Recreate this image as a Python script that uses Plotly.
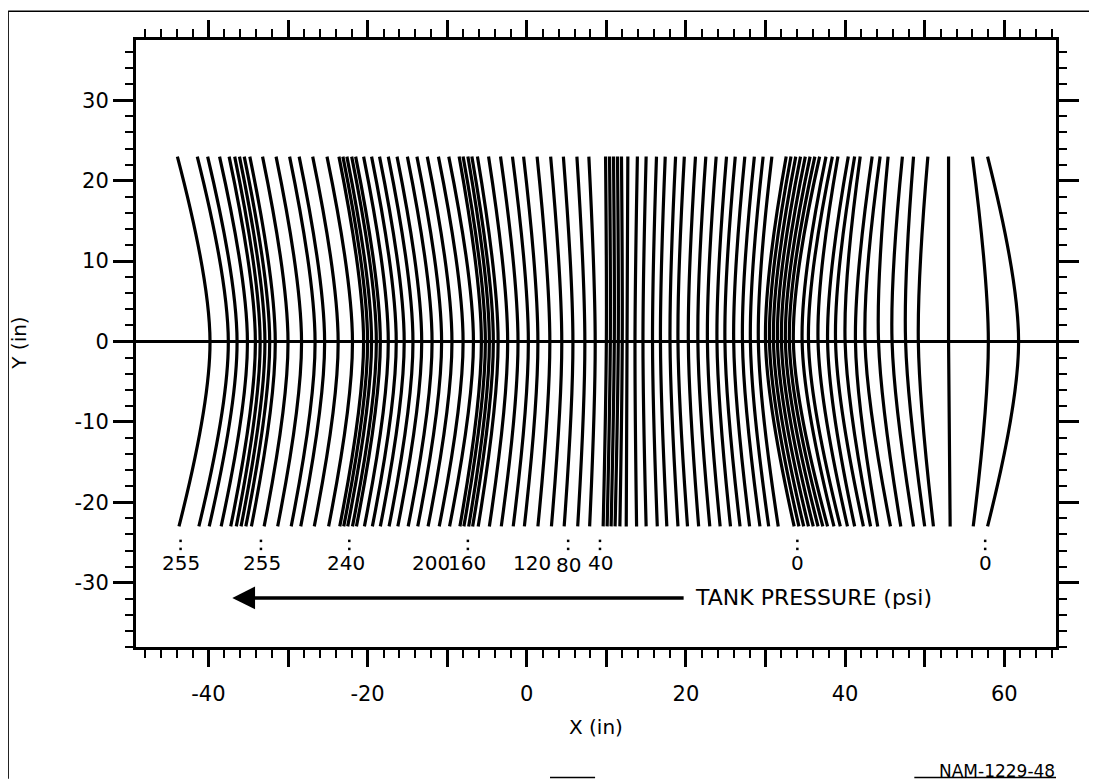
import plotly.graph_objects as go

# ---- data (x positions in inches) ----
# each curve: x at y=+23 (top end), x at y=0 (centre line), x at y=-23 (bottom end)
y_levels = [23, 0, -23]

curve_top = [
    -43.9, -41.4, -40.1, -38.6, -37.4, -36.7, -36.1, -35.5, -34.8, -33.2, -31.5, -29.8, -28.6, -26.9, -25.1,
    -23.6, -23.1, -22.6, -22.0, -21.5, -20.5, -19.5, -18.5, -17.4, -16.3, -15.0, -13.8, -12.5, -11.1, -9.8,
    -8.5, -8.0, -7.4, -6.9, -6.2, -4.8, -3.3, -1.8, -0.4, 1.3, 3.0, 4.6, 6.3, 7.8,
    9.9, 10.4, 10.9, 11.4, 11.9, 12.7, 13.9, 15.0, 16.3, 17.4, 18.7, 19.8, 21.2, 22.5, 23.8, 25.1, 26.2, 27.4, 28.6, 29.7, 30.8,
    32.6, 33.2, 33.8, 34.4, 35.0, 35.6, 36.2, 36.8, 37.6, 38.4, 39.1, 40.4, 41.2, 41.9, 43.4, 44.4, 45.4, 47.2, 48.6, 50.4, 53.0, 56.0, 57.9,
]
curve_mid = [
    -39.8, -37.5, -36.4, -35.1, -34.1, -33.5, -32.9, -32.3, -31.6, -30.0, -28.3, -26.6, -25.4, -23.7, -21.9,
    -20.5, -20.0, -19.5, -18.9, -18.4, -17.4, -16.4, -15.4, -14.3, -13.2, -11.9, -10.7, -9.4, -8.0, -6.7,
    -5.7, -5.2, -4.7, -4.2, -3.6, -2.4, -1.1, 0.2, 1.4, 2.9, 4.4, 5.8, 7.3, 8.6,
    10.0, 10.5, 11.0, 11.5, 12.0, 12.6, 13.6, 14.6, 15.8, 16.8, 18.0, 19.0, 20.3, 21.5, 22.7, 23.9, 24.9, 26.0, 27.1, 28.1, 29.1,
    30.0, 30.5, 31.0, 31.5, 32.0, 32.5, 33.0, 33.5, 34.6, 35.4, 36.6, 37.8, 38.8, 40.0, 41.3, 42.5, 44.2, 45.9, 47.6, 49.2, 53.0, 58.0, 61.8,
]
curve_bot = [
    -43.7, -41.2, -39.9, -38.4, -37.2, -36.5, -35.9, -35.3, -34.6, -33.0, -31.3, -29.6, -28.4, -26.7, -24.9,
    -23.5, -23.0, -22.5, -21.9, -21.4, -20.4, -19.4, -18.4, -17.3, -16.2, -14.9, -13.7, -12.4, -11.0, -9.7,
    -8.4, -7.9, -7.3, -6.8, -6.1, -4.7, -3.2, -1.7, -0.3, 1.4, 3.1, 4.7, 6.4, 7.9,
    9.6, 10.1, 10.6, 11.1, 11.7, 12.5, 13.8, 15.0, 16.4, 17.6, 19.0, 20.2, 21.6, 23.0, 24.3, 25.6, 26.8, 28.0, 29.3, 30.4, 31.6,
    33.6, 34.2, 34.8, 35.4, 36.0, 36.6, 37.2, 37.8, 38.6, 39.4, 40.3, 41.2, 42.3, 43.2, 44.1, 45.7, 47.0, 48.6, 50.0, 51.1, 53.2, 56.1, 57.9,
]

pressure_text = ["255", "255", "240", "200", "160", "120", "80", "40", "0", "0"]
pressure_x = [-43.4, -33.3, -22.7, -12.0, -7.5, 0.7, 5.3, 9.3, 34.0, 57.6]
pressure_y = [-27.5, -27.5, -27.5, -27.5, -27.5, -27.5, -27.8, -27.5, -27.5, -27.5]
pip_x = [-43.5, -33.4, -22.3, -7.4, 5.2, 9.2, 34.0, 57.6]
pip_y_upper = -24.8
pip_y_lower = -25.8

arrow_head = (-37.0, -31.9)
arrow_tail = (19.9, -31.9)
arrow_label = "TANK PRESSURE (psi)"

x_range = [-49.1, 66.5]
y_range = [-38.0, 37.5]
x_ticks = [-40, -30, -20, -10, 0, 10, 20, 30, 40, 50, 60]
x_ticktext = ["-40", "", "-20", "", "0", "", "20", "", "40", "", "60"]
y_ticks = [-30, -20, -10, 0, 10, 20, 30]
y_ticktext = ["-30", "-20", "-10", "0", "10", "20", "30"]

FONT = "DejaVu Sans, Liberation Sans, Arial, sans-serif"

fig = go.Figure()
for t, m, b in zip(curve_top, curve_mid, curve_bot):
    fig.add_trace(go.Scatter(
        x=[t, m, b], y=y_levels, mode="lines",
        line=dict(color="black", width=3.2, shape="spline", smoothing=1.0),
        showlegend=False, hoverinfo="skip"))

# small pips (two dots) above the pressure labels
fig.add_trace(go.Scatter(
    x=pip_x + pip_x, y=[pip_y_upper] * len(pip_x) + [pip_y_lower] * len(pip_x),
    mode="markers", marker=dict(size=2.5, color="black", symbol="square"),
    showlegend=False, hoverinfo="skip"))

for txt, px, py in zip(pressure_text, pressure_x, pressure_y):
    fig.add_annotation(x=px, y=py, text=txt, showarrow=False,
                       font=dict(size=20, color="black", family=FONT))

fig.add_annotation(x=arrow_head[0], y=arrow_head[1], ax=arrow_tail[0], ay=arrow_tail[1],
                   xref="x", yref="y", axref="x", ayref="y", text="", showarrow=True,
                   arrowhead=2, arrowsize=1.3, arrowwidth=3.5, arrowcolor="black")
fig.add_annotation(x=arrow_tail[0] + 1.0, y=arrow_tail[1], text=arrow_label, showarrow=False,
                   xanchor="left", font=dict(size=22, color="black", family=FONT))

# axis titles and figure code
fig.add_annotation(xref="paper", yref="paper", x=0.5, y=-0.131, text="X (in)", showarrow=False,
                   yanchor="middle", font=dict(size=20, color="black", family=FONT))
fig.add_annotation(xref="paper", yref="paper", x=-0.128, y=0.5, text="Y (in)", showarrow=False,
                   textangle=-90, xanchor="center", font=dict(size=20, color="black", family=FONT))
fig.add_annotation(xref="paper", yref="paper", x=1.001, y=-0.205, text="NAM-1229-48", showarrow=False,
                   xanchor="right", yanchor="middle", font=dict(size=17, color="black", family=FONT))

# outer frame of the scanned figure (top, left and broken bottom edges)
frame = dict(color="black", width=1.5)
fig.add_shape(type="line", xref="paper", yref="paper", x0=-0.139, x1=1.045, y0=1.0475, y1=1.0475, line=frame)
fig.add_shape(type="line", xref="paper", yref="paper", x0=-0.139, x1=-0.139, y0=1.0475, y1=-0.217, line=frame)
fig.add_shape(type="line", xref="paper", yref="paper", x0=0.45, x1=0.499, y0=-0.215, y1=-0.215, line=frame)
fig.add_shape(type="line", xref="paper", yref="paper", x0=0.846, x1=1.0, y0=-0.215, y1=-0.215, line=frame)

axis_common = dict(showgrid=False, showline=True, linecolor="black", linewidth=3, mirror="allticks",
                   ticks="outside", tickcolor="black", tickwidth=2.5,
                   tickfont=dict(size=21, color="black", family=FONT))
fig.update_xaxes(range=x_range, tickmode="array", tickvals=x_ticks, ticktext=x_ticktext,
                 ticklen=17, zeroline=False, ticklabelstandoff=9,
                 minor=dict(dtick=2, ticks="outside", ticklen=8, tickwidth=2, tickcolor="black"),
                 **axis_common)
fig.update_yaxes(range=y_range, tickmode="array", tickvals=y_ticks, ticktext=y_ticktext,
                 ticklen=20, zeroline=True, zerolinecolor="black", zerolinewidth=3,
                 ticklabelstandoff=0,
                 minor=dict(dtick=2, ticks="outside", ticklen=8, tickwidth=2, tickcolor="black"),
                 **axis_common)

# the page adds an 8 px body margin, so the figure is 8 px smaller and the margins shifted
fig.update_layout(width=1089, height=772, margin=dict(l=128, r=41, t=29, b=133),
                  paper_bgcolor="white", plot_bgcolor="white")
fig.write_html("out.html")
